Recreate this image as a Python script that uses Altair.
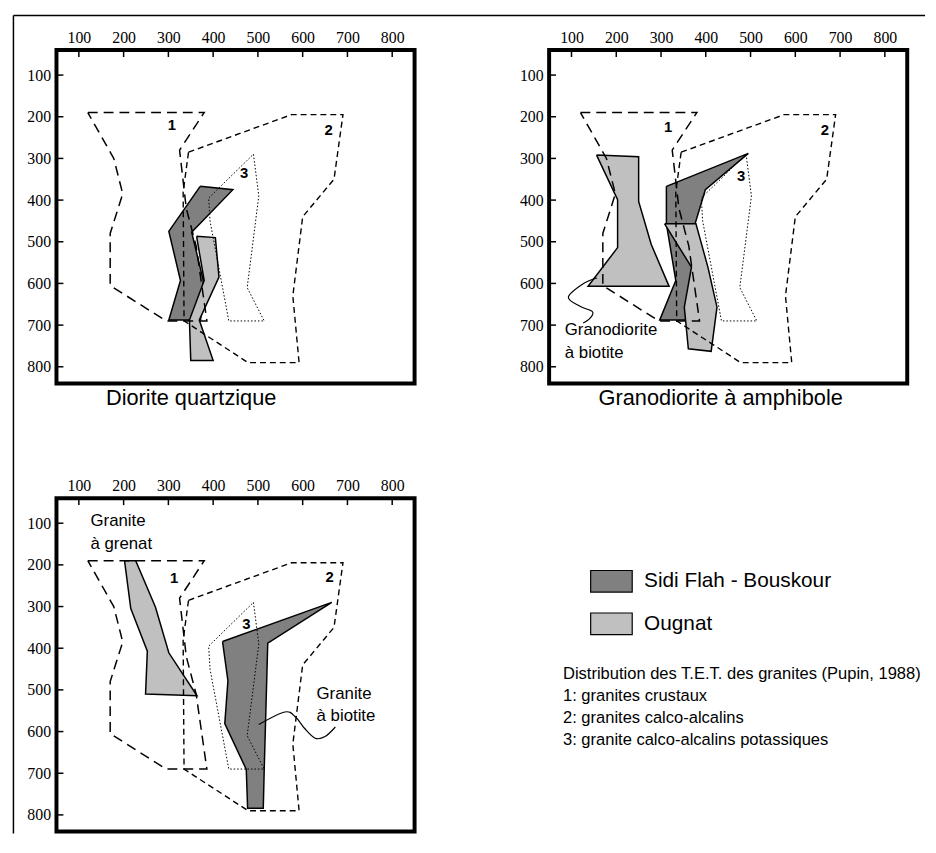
import altair as alt
import pandas as pd

# ---------------- data ----------------
TICKS = [100, 200, 300, 400, 500, 600, 700, 800]

# Pupin (1988) T.E.T. fields, identical in the three diagrams
FIELD1_X = [120, 380, 325, 340, 362, 386, 295, 170, 170, 198, 178, 120]
FIELD1_Y = [190, 190, 280, 420, 510, 690, 690, 605, 480, 385, 300, 190]
FIELD2_X = [345, 575, 690, 670, 600, 578, 592, 478, 335, 333, 345]
FIELD2_Y = [285, 195, 195, 350, 440, 630, 790, 790, 690, 380, 285]
FIELD3_X = [490, 502, 476, 514, 435, 393, 390, 490]
FIELD3_Y = [290, 390, 610, 690, 690, 450, 395, 290]

SERIES = ["Sidi Flah - Bouskour", "Ougnat"]
COLORS = ["#808080", "#c0c0c0"]

# Diorite quartzique
P1_DARK_X = [371, 444, 352, 378, 372, 301, 327, 301, 371]
P1_DARK_Y = [367, 375, 477, 593, 688, 688, 593, 475, 367]
P1_LIGHT_X = [363, 405, 413, 369, 400, 350, 347, 380, 363]
P1_LIGHT_Y = [487, 490, 585, 688, 785, 785, 688, 593, 487]

# Granodiorite a amphibole (+ granodiorite a biotite)
P2_LIGHTA_X = [156, 250, 250, 278, 318, 137, 203, 203, 156]
P2_LIGHTA_Y = [292, 296, 403, 506, 607, 607, 514, 399, 292]
P2_DARK_X = [312, 495, 399, 376, 383, 362, 297, 333, 312, 312]
P2_DARK_Y = [367, 288, 375, 457, 590, 688, 688, 593, 457, 367]
P2_LIGHTB_X = [308, 378, 405, 425, 412, 361, 352, 368, 308]
P2_LIGHTB_Y = [457, 457, 562, 657, 763, 757, 657, 561, 457]

# Granites
P3_LIGHT_X = [202, 227, 271, 301, 364, 249, 253, 216, 202]
P3_LIGHT_Y = [190, 190, 301, 411, 514, 510, 407, 305, 190]
P3_DARK_X = [421, 665, 522, 514, 512, 477, 474, 426, 433, 421]
P3_DARK_Y = [384, 290, 388, 695, 784, 784, 691, 581, 478, 384]

# field number labels per panel
P1_NUM = [("1", 308, 221), ("2", 658, 233), ("3", 469, 336)]
P2_NUM = [("1", 316, 225), ("2", 666, 233), ("3", 479, 342)]
P3_NUM = [("1", 313, 232), ("2", 660, 229), ("3", 474, 343)]

# annotations
P2_ANN = [("Granodiorite", 85, 713), ("à biotite", 85, 767)]
P2_LEAD_X = [157, 126, 93, 119, 147, 141, 126]
P2_LEAD_Y = [587, 601, 633, 655, 668, 684, 695]
P3_ANN = [("Granite", 126, 96), ("à grenat", 126, 151),
          ("Granite", 631, 511), ("à biotite", 631, 563)]
P3_LEAD_X = [502, 560, 584, 604, 628, 650, 673]
P3_LEAD_Y = [583, 553, 565, 592, 616, 612, 589]

TITLES = ["Diorite quartzique", "Granodiorite à amphibole"]
DESC = ["Distribution des T.E.T. des granites (Pupin, 1988)",
        "1: granites crustaux",
        "2: granites calco-alcalins",
        "3: granite calco-alcalins potassiques"]

# ---------------- helpers ----------------
W, H = 362, 337
XS = alt.Scale(domain=[50, 850], nice=False, zero=False)
YS = alt.Scale(domain=[40, 840], nice=False, zero=False, reverse=True)
AX_COMMON = dict(values=TICKS, title=None, grid=False, domain=False, ticks=False,
                 tickSize=0, labelFont="Liberation Serif", labelFontSize=16,
                 labelColor="black", labelFlush=False, labelOverlap=False)
XAX = alt.Axis(orient="top", labelPadding=5, **AX_COMMON)
YAX = alt.Axis(orient="left", labelPadding=6, **AX_COMMON)


def xe(f):
    return alt.X(f, scale=XS, axis=XAX)


def ye(f):
    return alt.Y(f, scale=YS, axis=YAX)


def poly_df(xs, ys, name="p"):
    return pd.DataFrame({"x": xs, "y": ys, "i": list(range(len(xs))), "poly": name})


def poly(xs, ys, fill):
    return alt.Chart(poly_df(xs, ys)).mark_line(
        fill=fill, stroke="black", strokeWidth=1.5, strokeJoin="miter"
    ).encode(x=xe("x:Q"), y=ye("y:Q"), order="i:Q")


def fields():
    f1 = alt.Chart(poly_df(FIELD1_X, FIELD1_Y)).mark_line(
        stroke="black", strokeWidth=1.5, strokeDash=[10, 6]
    ).encode(x=xe("x:Q"), y=ye("y:Q"), order="i:Q")
    f2 = alt.Chart(poly_df(FIELD2_X, FIELD2_Y)).mark_line(
        stroke="black", strokeWidth=1.4, strokeDash=[6, 4]
    ).encode(x=xe("x:Q"), y=ye("y:Q"), order="i:Q")
    f3 = alt.Chart(poly_df(FIELD3_X, FIELD3_Y)).mark_line(
        stroke="black", strokeWidth=1, strokeDash=[1.5, 2]
    ).encode(x=xe("x:Q"), y=ye("y:Q"), order="i:Q")
    return [f1, f2, f3]


def numbers(lst):
    df = pd.DataFrame(lst, columns=["t", "x", "y"])
    return alt.Chart(df).mark_text(
        font="Liberation Sans", fontWeight="bold", fontSize=15, color="black"
    ).encode(x=xe("x:Q"), y=ye("y:Q"), text="t:N")


def ann_text(lst):
    df = pd.DataFrame(lst, columns=["t", "x", "y"])
    return alt.Chart(df).mark_text(
        font="Liberation Sans", fontSize=17, color="black", align="left", baseline="middle"
    ).encode(x=xe("x:Q"), y=ye("y:Q"), text="t:N")


def leader(xs, ys):
    return alt.Chart(poly_df(xs, ys)).mark_line(
        stroke="black", strokeWidth=1.2, interpolate="cardinal"
    ).encode(x=xe("x:Q"), y=ye("y:Q"), order="i:Q")


def tick_marks():
    tdf = pd.DataFrame({"v": TICKS})
    xt = alt.Chart(tdf).mark_rule(color="black", strokeWidth=1.5).encode(
        x=xe("v:Q"), y=alt.value(0), y2=alt.value(7))
    yt = alt.Chart(tdf).mark_rule(color="black", strokeWidth=1.5).encode(
        y=ye("v:Q"), x=alt.value(0), x2=alt.value(7))
    return [xt, yt]


ONE = pd.DataFrame({"k": [0]})


def title_text(t):
    return alt.Chart(pd.DataFrame({"t": [t]})).mark_text(
        font="Liberation Sans", fontSize=22, color="black", align="left",
        baseline="alphabetic"
    ).encode(text="t:N", x=alt.value(50), y=alt.value(359))


# ---------------- panel 1 ----------------
border_top = alt.Chart(ONE).mark_rule(color="black", strokeWidth=1.5).encode(
    x=alt.value(-43.5), x2=alt.value(878), y=alt.value(-35))
border_left = alt.Chart(ONE).mark_rule(color="black", strokeWidth=1.5).encode(
    x=alt.value(-43.5), y=alt.value(-35), y2=alt.value(792))

p1 = alt.layer(
    poly(P1_DARK_X, P1_DARK_Y, COLORS[0]),
    poly(P1_LIGHT_X, P1_LIGHT_Y, COLORS[1]),
    *fields(), numbers(P1_NUM), *tick_marks(), title_text(TITLES[0]),
    border_top, border_left,
).properties(width=W, height=H)

# ---------------- panel 2 ----------------
p2 = alt.layer(
    poly(P2_LIGHTA_X, P2_LIGHTA_Y, COLORS[1]),
    poly(P2_DARK_X, P2_DARK_Y, COLORS[0]),
    poly(P2_LIGHTB_X, P2_LIGHTB_Y, COLORS[1]),
    *fields(), numbers(P2_NUM), ann_text(P2_ANN), leader(P2_LEAD_X, P2_LEAD_Y),
    *tick_marks(), title_text(TITLES[1]),
).properties(width=W, height=H)

# ---------------- panel 3 (with legend) ----------------
p3_polys = pd.concat([
    poly_df(P3_LIGHT_X, P3_LIGHT_Y, "Ougnat"),
    poly_df(P3_DARK_X, P3_DARK_Y, "Sidi Flah - Bouskour"),
])
p3_poly = alt.Chart(p3_polys).mark_line(
    stroke="black", strokeWidth=1.5, strokeJoin="miter"
).encode(
    x=xe("x:Q"), y=ye("y:Q"), order="i:Q",
    fill=alt.Fill("poly:N", scale=alt.Scale(domain=SERIES, range=COLORS),
                  legend=alt.Legend(
                      title=None, orient="none", legendX=539, legendY=515,
                      symbolType="M-1,-0.52H1V0.52H-1Z", symbolSize=1764,
                      symbolStrokeColor="black", symbolStrokeWidth=1.2,
                      labelFont="Liberation Sans", labelFontSize=21,
                      labelColor="black", labelOffset=11, rowPadding=7,
                      labelLimit=400)),
)
desc = alt.Chart(pd.DataFrame({"t": ["\n".join(DESC)]})).mark_text(
    font="Liberation Sans", fontSize=16.7, color="black", align="left",
    baseline="alphabetic", lineBreak="\n", lineHeight=22.3
).encode(text="t:N", x=alt.value(512), y=alt.value(183))

p3 = alt.layer(
    p3_poly, *fields(), numbers(P3_NUM), ann_text(P3_ANN),
    leader(P3_LEAD_X, P3_LEAD_Y), *tick_marks(), desc,
).properties(width=W, height=H)

chart = alt.concat(
    p1, p2, p3, columns=2, spacing={"row": 116, "column": 136}, bounds="flush"
).properties(
    padding={"left": 2, "top": 0, "right": 0, "bottom": 0},
    background="white",
).configure_view(stroke="black", strokeWidth=4)

chart.save("out.html", embed_options={"renderer": "svg", "actions": False})
